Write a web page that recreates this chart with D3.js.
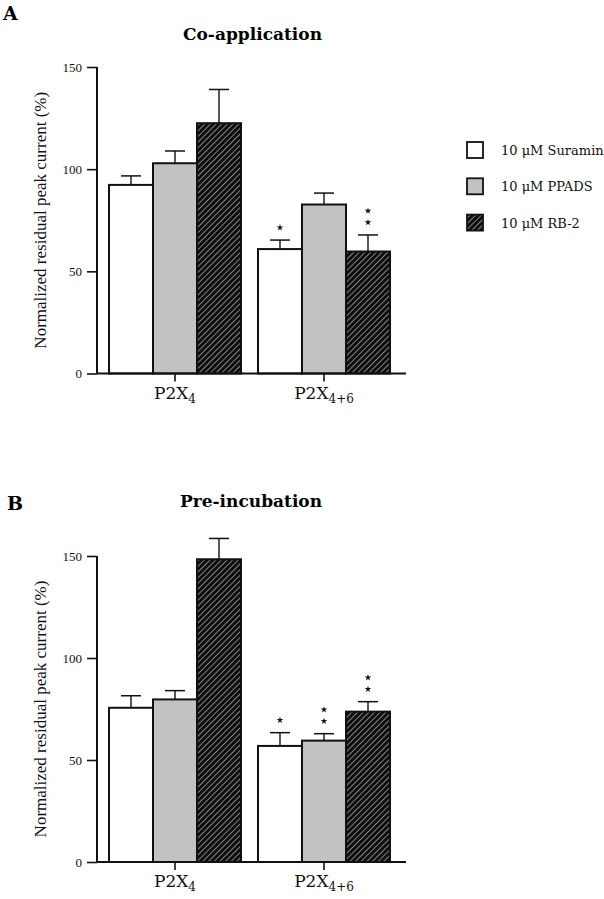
<!DOCTYPE html>
<html><head><meta charset="utf-8">
<script src="https://cdn.jsdelivr.net/npm/d3@7"></script>
<style>
body{margin:0;background:#fff;}
svg{display:block;}
</style></head>
<body>
<script>
// ---- data ----
const groups = ["P2X4", "P2X4+6"];
const groupMain = ["P2X", "P2X"];
const groupSub = ["4", "4+6"];
const series = ["10 μM Suramin", "10 μM PPADS", "10 μM RB-2"];
const yTicks = [0, 50, 100, 150];
// Co-application: mean and SEM per group (rows) and series (cols)
const coMean = [[92.3, 102.9, 122.5], [60.9, 82.7, 59.7]];
const coErr  = [[4.4, 6.0, 16.5], [4.4, 5.6, 8.1]];
const coStars = [[0, 0, 0], [1, 0, 2]];
// Pre-incubation
const preMean = [[75.6, 79.7, 148.4], [56.9, 59.5, 73.7]];
const preErr  = [[5.9, 4.3, 10.2], [6.5, 3.4, 4.9]];
const preStars = [[0, 0, 0], [1, 2, 2]];

const W = 604, H = 899;
const svg = d3.select("body").append("svg").attr("width", W).attr("height", H);

const defs = svg.append("defs");
const pat = defs.append("pattern").attr("id", "hatch").attr("patternUnits", "userSpaceOnUse")
  .attr("width", 4).attr("height", 4).attr("patternTransform", "rotate(45)");
pat.append("rect").attr("width", 4).attr("height", 4).attr("fill", "#0d0d0d");
pat.append("line").attr("x1", 0).attr("y1", 0).attr("x2", 0).attr("y2", 4)
  .attr("stroke", "#e8e8e8").attr("stroke-width", 1.1);
const fills = ["#ffffff", "#c2c2c2", "url(#hatch)"];

const serif = "'Liberation Serif', 'Times New Roman', serif";
const wide = "'DejaVu Serif', serif";

const x0 = d3.scaleBand().domain(groups).range([109, 390]).paddingInner(0.114).paddingOuter(0);
const x1 = d3.scaleBand().domain(series).range([0, x0.bandwidth()]).padding(0);

function panel(cfg) {
  const y = d3.scaleLinear().domain([0, 150]).range([cfg.y0, cfg.y150]);
  const g = svg.append("g");

  // panel letter and title
  g.append("text").attr("x", cfg.letterX).attr("y", cfg.letterY).text(cfg.letter)
    .attr("font-family", wide).attr("font-weight", "bold").attr("font-size", 19);
  g.append("text").attr("x", cfg.titleX).attr("y", cfg.titleY).text(cfg.title)
    .attr("font-family", wide).attr("font-weight", "bold").attr("font-size", 17);

  // bars
  groups.forEach((grp, gi) => {
    series.forEach((s, si) => {
      const xb = x0(grp) + x1(s);
      const bw = x1.bandwidth();
      const v = cfg.mean[gi][si], e = cfg.err[gi][si];
      const cx = xb + bw / 2;
      // error bar (drawn behind bar)
      g.append("line").attr("x1", cx).attr("x2", cx).attr("y1", y(v)).attr("y2", y(v + e))
        .attr("stroke", "#111").attr("stroke-width", 1.4);
      g.append("line").attr("x1", cx - 10).attr("x2", cx + 10).attr("y1", y(v + e)).attr("y2", y(v + e))
        .attr("stroke", "#111").attr("stroke-width", 1.5);
      g.append("rect").attr("x", xb).attr("y", y(v)).attr("width", bw).attr("height", y(0) - y(v))
        .attr("fill", fills[si]).attr("stroke", "#111").attr("stroke-width", 2);
      const n = cfg.stars[gi][si];
      for (let k = 0; k < n; k++) {
        g.append("path").attr("d", d3.symbol(d3.symbolStar, 14)())
          .attr("transform", `translate(${cx},${y(v + e) - 12.5 - 11.5 * k})`)
          .attr("fill", "#111");
      }
    });
  });

  // y axis
  const ya = g.append("g").attr("transform", "translate(97,0)")
    .call(d3.axisLeft(y).tickValues(yTicks).tickSize(10).tickPadding(5).tickFormat(d3.format("d")));
  ya.select(".domain").attr("stroke", "#111").attr("stroke-width", 2).attr("d", `M0,${y(150)}V${y(0)}`);
  ya.selectAll(".tick line").attr("stroke", "#111").attr("stroke-width", 1.6);
  ya.selectAll(".tick text").attr("font-family", serif).attr("font-size", 13).attr("fill", "#111");

  // x axis
  const xa = g.append("g").attr("transform", `translate(0,${y(0)})`)
    .call(d3.axisBottom(x0).tickSize(8).tickFormat(""));
  xa.select(".domain").attr("stroke", "#111").attr("stroke-width", 2).attr("d", "M97,0H406");
  xa.selectAll(".tick line").attr("stroke", "#111").attr("stroke-width", 1.6);
  groups.forEach((grp, gi) => {
    const t = g.append("text").attr("x", x0(grp) + x0.bandwidth() / 2).attr("y", y(0) + 25)
      .attr("text-anchor", "middle").attr("font-family", wide).attr("font-size", 17).attr("fill", "#111");
    t.append("tspan").text(groupMain[gi]);
    t.append("tspan").text(groupSub[gi]).attr("font-size", 12).attr("dy", 4);
  });

  // y label
  g.append("text").attr("transform", `translate(46,${(y(0) + y(150)) / 2}) rotate(-90)`)
    .attr("text-anchor", "middle").attr("font-family", serif).attr("font-size", 17).attr("fill", "#111")
    .text("Normalized residual peak current (%)");
}

panel({letter: "A", letterX: 3, letterY: 20, title: "Co-application", titleX: 183, titleY: 40,
  y0: 373.5, y150: 67, mean: coMean, err: coErr, stars: coStars});
panel({letter: "B", letterX: 7, letterY: 510, title: "Pre-incubation", titleX: 180, titleY: 507,
  y0: 862, y150: 556, mean: preMean, err: preErr, stars: preStars});

// legend
const leg = svg.append("g");
series.forEach((s, i) => {
  const yy = 150 + i * 36.3;
  leg.append("rect").attr("x", 467).attr("y", yy - 8).attr("width", 16).attr("height", 16)
    .attr("fill", fills[i]).attr("stroke", "#111").attr("stroke-width", 1.8);
  leg.append("text").attr("x", 501).attr("y", yy + 5).text(s)
    .attr("font-family", wide).attr("font-size", 13).attr("fill", "#111");
});
</script>
</body></html>
